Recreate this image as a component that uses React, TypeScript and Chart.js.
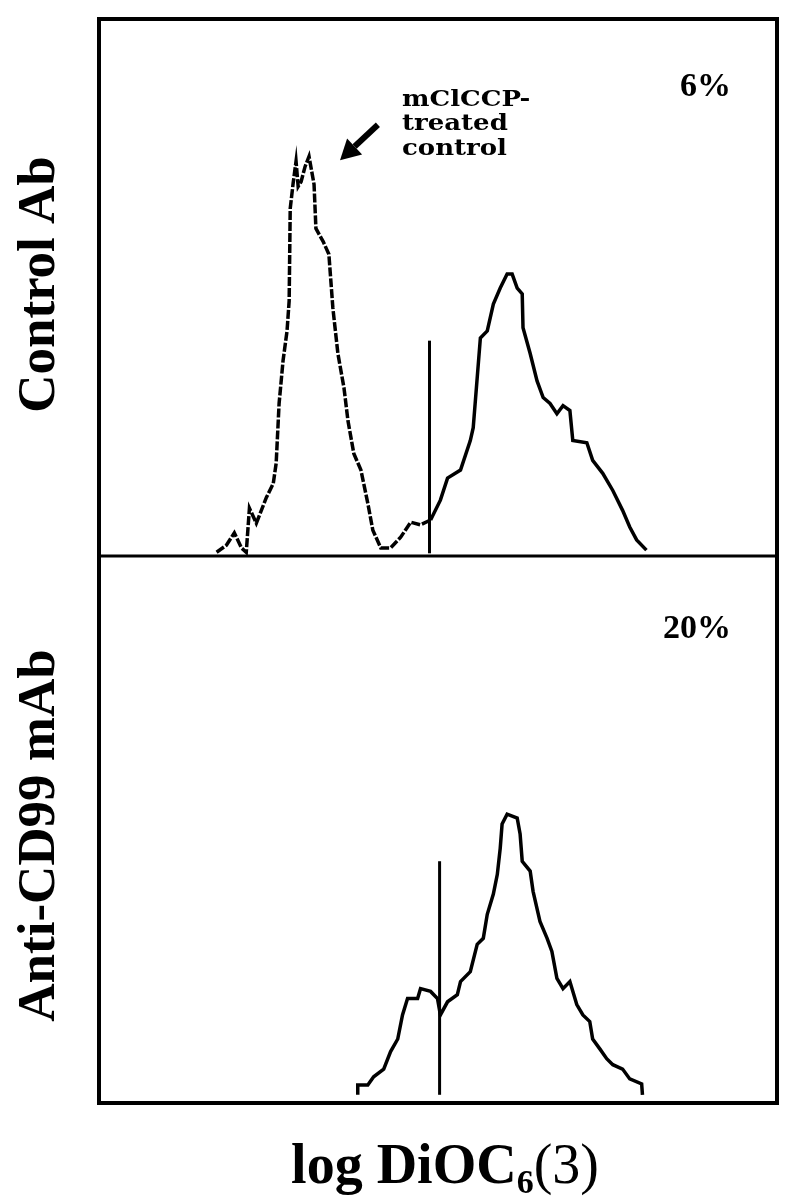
import React, { useEffect, useRef } from "react";
import { Chart, registerables } from "chart.js";

Chart.register(...registerables);

// log DiOC6(3) channel (0-256) and relative cell counts (0-100)
const mclcppX = [44.4, 48.1, 51.1, 53.8, 55.6, 56.8, 59.4, 61.3, 63.2, 65.8, 66.9, 68.0, 69.5, 71.0, 71.8, 72.2, 73.3, 74.4, 75.2, 76.3, 77.8, 79.3, 81.2, 81.9, 84.6, 86.8, 88.3, 90.2, 92.5, 94.0, 96.2, 98.9, 101.5, 103.4, 106.4, 110.1, 113.9, 117.7, 121.4, 125.2];
const mclcppY = [0.7, 2.0, 4.3, 1.5, 0.7, 8.9, 6.1, 8.5, 10.9, 13.5, 17.3, 28.4, 36.4, 41.9, 47.5, 64.7, 69.4, 73.5, 68.8, 69.7, 72.5, 74.4, 69.2, 61.0, 58.6, 56.2, 46.2, 37.7, 31.3, 25.2, 19.1, 16.0, 9.8, 4.8, 1.5, 1.5, 3.5, 6.3, 5.8, 6.7];

const controlX = [125.2, 128.9, 131.6, 136.5, 140.2, 141.3, 144.0, 146.6, 148.9, 151.5, 154.1, 156.0, 157.9, 159.8, 160.1, 162.8, 165.4, 167.7, 170.3, 172.9, 175.2, 177.8, 178.9, 184.2, 186.4, 190.2, 194.0, 197.7, 200.4, 203.0, 206.7];
const controlY = [6.7, 10.4, 14.5, 16.0, 21.5, 23.9, 40.6, 41.9, 46.9, 49.9, 52.5, 52.5, 49.9, 48.8, 42.5, 37.7, 32.6, 29.5, 28.4, 26.5, 28.0, 27.1, 21.5, 21.1, 17.8, 15.4, 12.2, 8.5, 5.4, 3.0, 1.1];

const cd99X = [97.7, 97.7, 101.5, 103.7, 107.5, 110.1, 112.8, 114.6, 116.5, 120.3, 121.4, 125.2, 127.8, 128.9, 131.6, 135.3, 136.5, 140.2, 142.8, 145.1, 146.6, 148.9, 150.4, 151.5, 152.2, 154.1, 157.9, 159.0, 159.8, 162.8, 163.9, 166.5, 169.2, 171.0, 172.9, 175.2, 177.8, 180.4, 182.7, 185.3, 186.4, 189.1, 191.7, 194.0, 197.7, 200.4, 204.9, 205.2];
const cd99Y = [1.5, 3.3, 3.3, 4.8, 6.2, 9.4, 11.7, 16.1, 19.1, 19.1, 20.9, 20.4, 19.1, 16.1, 18.5, 19.8, 22.2, 24.0, 29.0, 30.1, 34.5, 38.2, 41.8, 46.6, 51.0, 52.8, 52.1, 49.2, 44.2, 42.4, 38.7, 33.2, 30.1, 27.7, 22.8, 20.9, 22.2, 18.0, 16.1, 14.9, 11.7, 9.9, 8.1, 7.0, 6.2, 4.4, 3.5, 1.5];

const gateTopX = [124.8, 124.8];
const gateTopY = [0.5, 40.1];
const gateBottomX = [128.6, 128.6];
const gateBottomY = [1.5, 44.2];

const panelLabels = ["Control Ab", "Anti-CD99 mAb"];
const percentLabels = ["6%", "20%"];
const noteLines = ["mClCCP-", "treated", "control"];

const zip = (xs: number[], ys: number[]) => xs.map((x, i) => ({ x, y: ys[i] }));

const decorPlugin = {
  id: "decor",
  afterDraw(chart: any) {
    const { ctx, chartArea, scales } = chart;
    const xs = scales.x;
    const yt = scales.yTop;
    const yb = scales.yBottom;
    ctx.save();
    ctx.strokeStyle = "#000";
    ctx.fillStyle = "#000";
    ctx.lineWidth = 4;
    ctx.lineJoin = "miter";
    ctx.strokeRect(chartArea.left, chartArea.top, chartArea.right - chartArea.left, chartArea.bottom - chartArea.top);
    ctx.lineWidth = 3;
    ctx.beginPath();
    ctx.moveTo(chartArea.left, yt.bottom);
    ctx.lineTo(chartArea.right, yt.bottom);
    ctx.stroke();

    // percentages
    ctx.font = "bold 34px 'Liberation Serif'";
    ctx.textAlign = "right";
    ctx.textBaseline = "alphabetic";
    ctx.fillText(percentLabels[0], xs.getPixelForValue(238.6), yt.getPixelForValue(85.7));
    ctx.fillText(percentLabels[1], xs.getPixelForValue(238.6), yb.getPixelForValue(85.0));

    // annotation
    ctx.font = "bold 26px 'DejaVu Serif'";
    ctx.textAlign = "left";
    const noteY = [83.8, 79.3, 74.7];
    noteLines.forEach((t, i) => {
      ctx.save();
      ctx.translate(xs.getPixelForValue(114.4), yt.getPixelForValue(noteY[i]));
      ctx.scale(1, 0.85);
      ctx.fillText(t, 0, 0);
      ctx.restore();
    });

    // arrow
    const tx = xs.getPixelForValue(91.0), ty = yt.getPixelForValue(73.7);
    const sx = xs.getPixelForValue(105.3), sy = yt.getPixelForValue(80.3);
    const ang = Math.atan2(ty - sy, tx - sx);
    const headLen = 20, headW = 11;
    const bx = tx - headLen * Math.cos(ang), by = ty - headLen * Math.sin(ang);
    ctx.lineWidth = 6;
    ctx.lineCap = "butt";
    ctx.beginPath();
    ctx.moveTo(sx, sy);
    ctx.lineTo(bx, by);
    ctx.stroke();
    ctx.beginPath();
    ctx.moveTo(tx, ty);
    ctx.lineTo(bx + headW * Math.sin(ang), by - headW * Math.cos(ang));
    ctx.lineTo(bx - headW * Math.sin(ang), by + headW * Math.cos(ang));
    ctx.closePath();
    ctx.fill();

    // panel labels (rotated)
    ctx.font = "bold 53px 'Liberation Serif'";
    ctx.textAlign = "center";
    ctx.textBaseline = "middle";
    const labelX = 40;
    const labelShift = [-3, 6];
    [yt, yb].forEach((s, i) => {
      ctx.save();
      ctx.translate(labelX, (s.top + s.bottom) / 2 + labelShift[i]);
      ctx.rotate(-Math.PI / 2);
      ctx.fillText(panelLabels[i], 0, 0);
      ctx.restore();
    });

    // x title: log DiOC6(3)
    const p1 = "log DiOC";
    const p2 = "6";
    const p3 = "(3)";
    const f1 = "bold 56px 'Liberation Serif'";
    const f2 = "bold 34px 'Liberation Serif'";
    const f3 = "56px 'Liberation Serif'";
    ctx.textAlign = "left";
    ctx.textBaseline = "alphabetic";
    ctx.font = f1; const w1 = ctx.measureText(p1).width;
    ctx.font = f2; const w2 = ctx.measureText(p2).width;
    ctx.font = f3; const w3 = ctx.measureText(p3).width;
    const total = w1 + w2 + w3;
    const cx = (chartArea.left + chartArea.right) / 2 + 7;
    const base = chartArea.bottom + 80;
    let x0 = cx - total / 2;
    ctx.font = f1; ctx.fillText(p1, x0, base); x0 += w1;
    ctx.font = f2; ctx.fillText(p2, x0, base + 10); x0 += w2;
    ctx.font = f3; ctx.fillText(p3, x0, base);
    ctx.restore();
  },
};

export default function App() {
  const ref = useRef<HTMLCanvasElement | null>(null);
  useEffect(() => {
    if (!ref.current) return;
    const line = (data: any, yAxisID: string, extra: any = {}) => ({
      type: "line",
      data,
      yAxisID,
      borderColor: "#000",
      backgroundColor: "#000",
      borderWidth: 3.5,
      pointRadius: 0,
      tension: 0,
      fill: false,
      ...extra,
    });
    const chart = new Chart(ref.current, {
      type: "line",
      data: {
        datasets: [
          line(zip(mclcppX, mclcppY), "yTop", { borderDash: [9, 2], label: "mClCCP-treated control" }),
          line(zip(controlX, controlY), "yTop", { label: "Control Ab" }),
          line(zip(gateTopX, gateTopY), "yTop", { borderWidth: 3, label: "gate" }),
          line(zip(cd99X, cd99Y), "yBottom", { label: "Anti-CD99 mAb" }),
          line(zip(gateBottomX, gateBottomY), "yBottom", { borderWidth: 3, label: "gate" }),
        ] as any,
      },
      options: {
        animation: false,
        responsive: true,
        maintainAspectRatio: false,
        layout: { padding: { left: 91, right: 13, top: 19, bottom: 96 } },
        plugins: { legend: { display: false }, tooltip: { enabled: false } },
        scales: {
          x: { type: "linear", min: 0, max: 256, display: false },
          yBottom: {
            type: "linear", position: "left", stack: "panels", stackWeight: 547, min: 0, max: 100,
            ticks: { display: false }, grid: { display: false }, border: { display: false },
          },
          yTop: {
            type: "linear", position: "left", stack: "panels", stackWeight: 537, min: 0, max: 100,
            ticks: { display: false }, grid: { display: false }, border: { display: false },
          },
        } as any,
      },
      plugins: [decorPlugin],
    });
    return () => chart.destroy();
  }, []);
  return (
    <div style={{ position: "fixed", left: 0, top: 0, width: 790, height: 1199, background: "#fff" }}>
      <canvas ref={ref} />
    </div>
  );
}
